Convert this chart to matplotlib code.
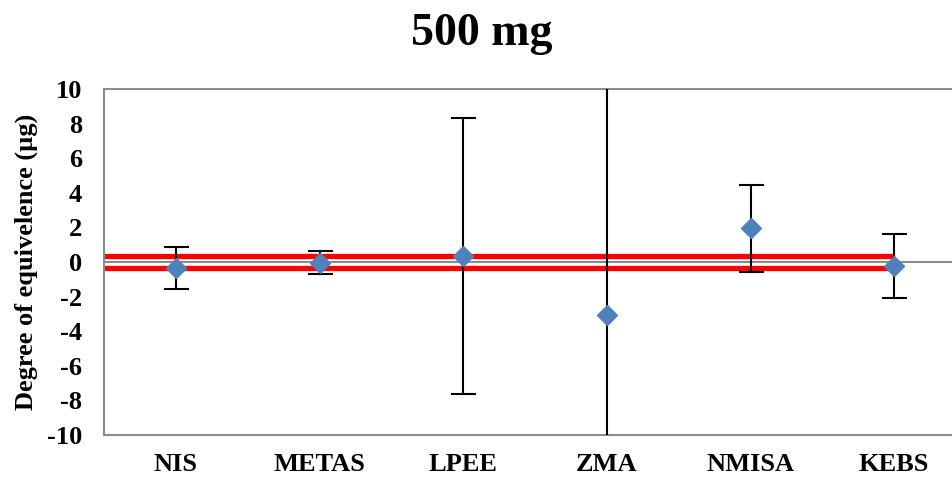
import matplotlib
matplotlib.use("Agg")
import matplotlib.pyplot as plt
import numpy as np

labs = ["NIS", "METAS", "LPEE", "ZMA", "NMISA", "KEBS"]
doe = [-0.33, -0.04, 0.36, -3.06, 1.95, -0.23]
unc = [1.22, 0.68, 7.98, 14.0, 2.5, 1.87]
ref_band = [0.35, -0.35]
yticks = list(range(-10, 11, 2))

plt.rcParams['font.family'] = ['Liberation Serif', 'DejaVu Serif']
plt.rcParams['font.weight'] = 'bold'

fig = plt.figure(figsize=(9.52, 4.79), dpi=100)
ax = fig.add_axes([104 / 952, 44 / 479, 862 / 952, 346 / 479])

x = np.arange(len(labs))
ax.axhline(0, color='#8c8c8c', lw=1.5, zorder=1)
for r in ref_band:
    ax.plot([-0.5, x[-1]], [r, r], color='#ff0000', lw=3.8, zorder=2, solid_capstyle='butt')
ax.errorbar(x, doe, yerr=unc, fmt='none', ecolor='black', elinewidth=1.5,
            capsize=9, capthick=1.5, zorder=3)
ax.plot(x, doe, 'D', color='#4f81bd', ms=10, mec='#4f81bd', zorder=4)

ax.set_xlim(-0.5, len(labs) - 0.5)
ax.set_ylim(-10, 10)
ax.set_yticks(yticks)
ax.set_xticks(x)
ax.set_xticklabels(labs, fontsize=19, fontweight='bold')
ax.set_yticklabels([str(t) for t in yticks], fontsize=19, fontweight='bold')
ax.tick_params(length=0)
ax.tick_params(axis='y', pad=16)
ax.tick_params(axis='x', pad=13)
for s in ax.spines.values():
    s.set_color('#8c8c8c')
    s.set_linewidth(1.5)

ax.set_ylabel("Degree of equivelence (µg)", fontsize=19, fontweight='bold', labelpad=6)
fig.text(482 / 952, 1 - 34 / 479, "500 mg", ha='center', va='center', fontsize=33, fontweight='bold')

fig.savefig("out.png", dpi=100)
